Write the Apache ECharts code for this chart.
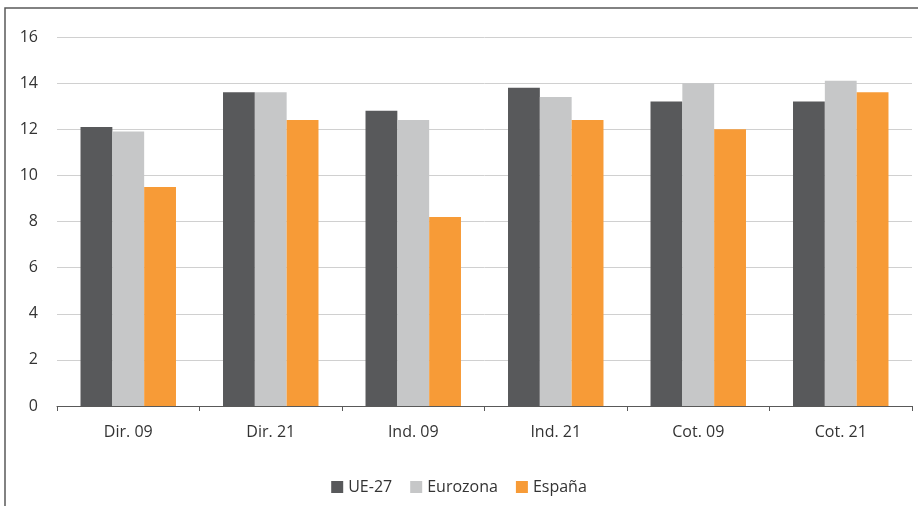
<!DOCTYPE html>
<html>
<head>
<meta charset="utf-8">
<script src="https://cdn.jsdelivr.net/npm/echarts@6/dist/echarts.min.js"></script>
<style>
  html, body { margin: 0; padding: 0; background: #fff; }
  #chart-container { width: 918px; height: 506px; }
</style>
</head>
<body>
<div id="chart-container"></div>
<script>
var categories = ['Dir. 09', 'Dir. 21', 'Ind. 09', 'Ind. 21', 'Cot. 09', 'Cot. 21'];
var ue27 = [12.1, 13.6, 12.8, 13.8, 13.2, 13.2];
var eurozona = [11.9, 13.6, 12.4, 13.4, 14.0, 14.1];
var espana = [9.5, 12.4, 8.2, 12.4, 12.0, 13.6];

var dom = document.getElementById('chart-container');
var myChart = echarts.init(dom, null, { renderer: 'canvas' });

var font = '"Open Sans", "Noto Sans", sans-serif';

var option = {
  animation: false,
  textStyle: { fontFamily: font },
  graphic: [
    {
      type: 'rect',
      shape: { x: 5, y: 8, width: 940, height: 540 },
      style: { fill: 'none', stroke: '#595959', lineWidth: 1.5 },
      silent: true
    }
  ],
  grid: { left: 57, right: 6, top: 37, bottom: 100, containLabel: false },
  legend: {
    bottom: 6,
    left: 'center',
    itemWidth: 12,
    itemHeight: 12,
    itemGap: 18,
    icon: 'rect',
    textStyle: { fontSize: 16, color: '#333', fontFamily: font },
    data: ['UE-27', 'Eurozona', 'España']
  },
  xAxis: {
    type: 'category',
    data: categories,
    axisLine: { lineStyle: { color: '#595959', width: 1 } },
    axisTick: { show: true, length: 5, lineStyle: { color: '#595959' } },
    axisLabel: { fontSize: 16, color: '#333', margin: 18, fontFamily: font }
  },
  yAxis: {
    type: 'value',
    min: 0,
    max: 16,
    interval: 2,
    axisLine: { show: false },
    axisTick: { show: false },
    splitLine: { lineStyle: { color: '#d0d0d0', width: 1 } },
    axisLabel: { fontSize: 16, color: '#333', margin: 19, fontFamily: font }
  },
  series: [
    {
      name: 'UE-27',
      type: 'bar',
      data: ue27,
      barGap: '0%',
      barCategoryGap: '33%',
      itemStyle: { color: '#58595b' }
    },
    {
      name: 'Eurozona',
      type: 'bar',
      data: eurozona,
      barGap: '0%',
      barCategoryGap: '33%',
      itemStyle: { color: '#c6c7c8' }
    },
    {
      name: 'España',
      type: 'bar',
      data: espana,
      barGap: '0%',
      barCategoryGap: '33%',
      itemStyle: { color: '#f79b37' }
    }
  ]
};

myChart.setOption(option);
window.addEventListener('resize', myChart.resize);
</script>
</body>
</html>
